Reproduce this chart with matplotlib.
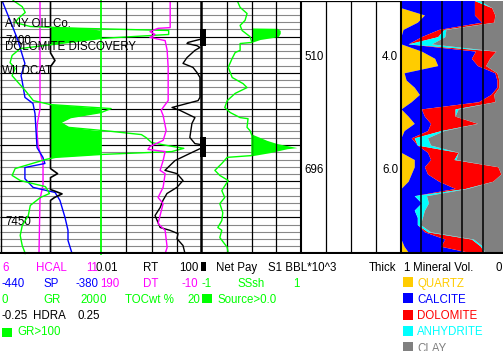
import numpy as np
import matplotlib
matplotlib.use("Agg")
import matplotlib.pyplot as plt
from matplotlib.patches import Rectangle
from matplotlib.transforms import blended_transform_factory

plt.rcParams['font.family'] = ['Liberation Sans', 'DejaVu Sans']

# ---------------- data ----------------
D_TOP, D_BOT = 7390, 7460

GR_DEPTH = [7390.0, 7391.7, 7393.3, 7395.0, 7396.1, 7397.2, 7397.7, 7398.3, 7399.4, 7400.5,
            7403.3, 7405.2, 7407.2, 7408.8, 7410.8, 7412.7, 7414.9, 7417.7, 7418.8, 7419.9,
            7421.0, 7422.4, 7423.8, 7425.1, 7426.2, 7427.1, 7428.0, 7429.3, 7430.1, 7430.9,
            7431.8, 7432.6, 7433.4, 7434.0, 7436.5, 7438.4, 7439.8, 7441.5, 7443.4, 7444.5,
            7446.7, 7449.5, 7452.3, 7455.0, 7457.8, 7460.0]
GR = [26, 44, 50, 36, 30, 60, 160, 334, 334, 200,
      40, 24, 20, 30, 24, 36, 50, 66, 100, 220,
      200, 140, 120, 136, 220, 280, 290, 300, 330, 364,
      340, 200, 110, 90, 30, 24, 40, 90, 98, 80,
      60, 56, 44, 40, 44, 50]

SP_DEPTH = [7390.0, 7397.5, 7401.1, 7405.8, 7407.4, 7410.8, 7412.1, 7416.8, 7418.5, 7421.3,
            7426.0, 7430.7, 7433.4, 7435.1, 7436.2, 7439.3, 7441.7, 7442.6, 7443.1, 7445.3,
            7450.0, 7453.6, 7456.4, 7460.0]
SP = [-438.8, -432.3, -429.3, -426.3, -425.2, -427.5, -426.9, -425.2, -420.4, -419.2,
      -418.6, -418.0, -414.5, -413.3, -425.2, -425.2, -420.4, -412.1, -407.3, -404.4,
      -401.4, -399.6, -399.6, -397.2]

HCAL_DEPTH = [7390, 7420, 7424, 7426, 7430, 7432, 7435, 7441, 7445, 7460]
HCAL = [7.98, 7.98, 7.85, 7.83, 7.88, 7.98, 8.13, 8.13, 7.98, 7.93]

HDRA_DEPTH = [7390, 7404.5, 7406.6, 7408.3, 7436.5, 7437.9, 7439.0, 7442.3, 7443.5, 7444.5, 7445.3, 7460]
HDRA = [0.0, 0.0, 0.022, 0.0, 0.0, 0.035, 0.0, 0.0, 0.057, 0.02, 0.0, 0.0]

RT_DEPTH = [7390.0, 7400.3, 7401.6, 7401.9, 7402.5, 7403.0, 7403.8, 7405.8, 7407.4, 7408.5,
            7409.9, 7411.3, 7416.8, 7417.7, 7418.5, 7419.6, 7420.4, 7422.4, 7424.0, 7427.9,
            7429.6, 7430.1, 7431.0, 7432.3, 7434.3, 7437.0, 7437.9, 7439.8, 7441.7, 7443.4,
            7445.3, 7447.3, 7449.5, 7452.8, 7453.6, 7454.5, 7455.9, 7457.8, 7460.0]
RT = [150, 150, 27.9, 25.4, 63, 83, 52.5, 25.4, 17.7, 43.7,
      63, 83, 83, 70, 25.4, 6.5, 13.4, 52.5, 40, 33,
      52.5, 150, 83, 33.4, 8.5, 3.4, 10.2, 17.7, 10.2, 4.1,
      2.85, 2.2, 1.38, 2.2, 5.4, 11.2, 10.2, 17.7, 21.2]

DT_DEPTH = [7390.0, 7397.5, 7397.7, 7398.6, 7399.4, 7400.2, 7401.1, 7403.8, 7408.5, 7417.7,
            7419.6, 7420.4, 7421.8, 7426.0, 7428.7, 7430.4, 7431.2, 7431.8, 7434.3, 7437.0,
            7437.9, 7441.7, 7444.5, 7446.2, 7449.5, 7451.7, 7453.6, 7458.3, 7460.0]
DT = [53, 53, 77, 93, 83, 93, 63, 59, 57, 57,
      67, 71, 67, 61, 67, 93, 97, 63, 67, 73,
      63, 67, 77, 67, 73, 77, 63, 59, 63]

TOC_DEPTH = [7390, 7460]
TOC = [0.0, 0.0]

SSSH_DEPTH = [7390.0, 7391.9, 7393.6, 7395.5, 7396.9, 7398.3, 7400.0, 7401.6, 7401.9, 7403.8,
              7404.4, 7406.0, 7408.5, 7411.3, 7413.0, 7414.1, 7415.7, 7417.7, 7419.6, 7421.0,
              7422.4, 7422.7, 7425.1, 7426.0, 7427.4, 7432.9, 7433.4, 7435.1, 7437.0, 7438.4,
              7439.8, 7442.6, 7444.5, 7446.2, 7448.7, 7450.9, 7452.8, 7453.6, 7455.6, 7458.3,
              7460.0]
SSSH = [-0.29, -0.23, -0.09, -0.13, -0.23, -0.19, -0.03, 0.01, -0.23, -0.23,
        -0.33, -0.39, -0.47, -0.39, -0.17, -0.09, -0.33, -0.49, -0.54, -0.43,
        -0.23, -0.07, -0.09, -0.03, 0.01, 0.01, -0.49, -0.60, -0.74, -0.64,
        -0.47, -0.60, -0.54, -0.64, -0.58, -0.60, -0.68, -0.60, -0.64, -0.49,
        -0.47]

SOURCE_DEPTH = [7390.0, 7397.6, 7397.7, 7398.3, 7399.1, 7400.0, 7400.8, 7401.6,
                7426.8, 7427.1, 7427.9, 7428.7, 7429.6, 7430.7, 7431.0, 7432.1, 7432.9, 7433.2, 7460.0]
SOURCE = [0.0, 0.0, 0.52, 0.58, 0.58, 0.54, 0.17, 0.0,
          0.0, 0.03, 0.17, 0.31, 0.52, 0.92, 0.72, 0.37, 0.03, 0.0, 0.0]

NETPAY_TOP = [7398.0, 7427.9]
NETPAY_BASE = [7402.7, 7433.4]

PAY_LABEL_DEPTH = [7406.6, 7437.7]
S1_BBL = ["510", "696"]
THICK = ["4.0", "6.0"]

DEPTH_LABELS = [7400, 7450]

MIN_DEPTH = list(range(7390, 7461, 2))
QUARTZ = [0, 0, .23, .16, .02, 0, 0, .20, .33, .36, .03, .05, .13, .18, .10, 0, .07, .13,
          .03, 0, 0, 0, .13, .13, .10, .07, 0, 0, 0, 0, 0, 0, 0, 0, .03, .08]
CALCITE = [.72, .72, .49, .63, .35, .20, .07, .53, .36, .39, .89, .89, .81, .70, .66, .20, .16, .16,
           .23, .10, .16, .26, .16, .10, .16, .30, .53, .13, .20, .13, .16, .16, .23, .43, .36, .64]
DOLOMITE = [0, .17, .20, .12, .05, .16, 0, .20, .18, .08, .02, .02, .02, .03, .16, .33, .30, .46,
            .13, .03, 0, .30, .23, .72, .72, .53, .10, 0, 0, 0, 0, 0, .03, .26, .39, .10]
ANHYDRITE = [.05, 0, 0, 0, .02, .07, .23, 0, 0, 0, 0, 0, 0, 0, 0, .03, 0, 0,
             .03, .13, .13, 0, .02, 0, 0, 0, .02, .12, .07, .10, .05, .03, .03, .02, .02, 0]
CLAY = [.23, .11, .08, .09, .56, .57, .70, .07, .13, .17, .06, .04, .04, .09, .08, .44, .47, .25,
        .58, .74, .71, .44, .46, .05, .02, .10, .35, .75, .73, .77, .79, .81, .71, .29, .20, .18]

MINERALS = ["QUARTZ", "CALCITE", "DOLOMITE", "ANHYDRITE", "CLAY"]
MIN_COLORS = ["#FFCC00", "#0000FF", "#FF0000", "#00FFFF", "#808080"]

# ---------------- figure ----------------
W, H = 503, 351
TOP_PX, BOT_PX = 0.5, 253.5
FS = 8.3
GREEN = "#00FF00"
MAG = "#FF00FF"
BLUE = "#0000FF"

fig = plt.figure(figsize=(W / 100, H / 100), dpi=100)
fig.patch.set_facecolor("white")


def track(x0, x1, xlim, xscale="linear"):
    ax = fig.add_axes([x0 / W, (H - BOT_PX) / H, (x1 - x0) / W, (BOT_PX - TOP_PX) / H])
    ax.set_xscale(xscale)
    ax.set_xlim(*xlim)
    ax.set_ylim(D_BOT, D_TOP)
    ax.axis("off")
    ax.patch.set_alpha(0)
    return ax


# depth grid for tracks 1-3
gax = track(0, 301, (0, 1))
gax.hlines(np.arange(7392, 7460, 2), 0, 1, colors="#888888", lw=0.8)
gax.hlines(np.arange(7400, 7460, 10), 0, 1, colors="black", lw=0.8)

# mineral track
mx = track(401, 503, (1, 0))
vols = [np.array(v, dtype=float) for v in (QUARTZ, CALCITE, DOLOMITE, ANHYDRITE, CLAY)]
left = np.ones(len(MIN_DEPTH))
for v, c in zip(vols, MIN_COLORS):
    right = left - v
    mx.fill_betweenx(MIN_DEPTH, left, right, color=c, lw=0)
    left = right
for xv in (0.8, 0.6, 0.4, 0.2):
    mx.axvline(xv, color="black", lw=1.1)

# depth / pay track
dax = track(301, 401, (0, 1))
for xv in (0.25, 0.5, 0.75):
    dax.axvline(xv, color="black", lw=0.9)
for d, s, t in zip(PAY_LABEL_DEPTH, S1_BBL, THICK):
    dax.text(0.03, d, s, fontsize=FS, va="baseline", ha="left")
    dax.text(0.81, d, t, fontsize=FS, va="baseline", ha="left")

# track 1
ax_gr = track(0, 101, (0, 200))
gr = np.array(GR, dtype=float)
ax_gr.fill_betweenx(GR_DEPTH, 100, np.minimum(gr, 200), where=gr >= 100,
                    interpolate=True, color=GREEN, lw=0)
ax_hcal = track(0, 101, (6, 11))
ax_hcal.plot(HCAL, HCAL_DEPTH, color=MAG, lw=1.0)
ax_sp = track(0, 101, (-440, -380))
ax_sp.plot(SP, SP_DEPTH, color=BLUE, lw=1.0)
ax_hd = track(0, 101, (-0.25, 0.25))
ax_hd.plot(HDRA, HDRA_DEPTH, color="black", lw=1.2)
ax_gr2 = track(0, 101, (0, 200))
ax_gr2.plot(GR, GR_DEPTH, color=GREEN, lw=1.0, clip_on=False)

# track 2
ax_rt = track(101, 202, (0.01, 100), "log")
for xv in (0.1, 1, 10):
    ax_rt.axvline(xv, color="black", lw=0.9)
ax_rt.plot(RT, RT_DEPTH, color="black", lw=1.0)
ax_dt = track(101, 202, (190, -10))
ax_dt.plot(DT, DT_DEPTH, color=MAG, lw=1.0)
ax_toc = track(101, 202, (0, 20))
ax_toc.plot(TOC, TOC_DEPTH, color=GREEN, lw=1.3, clip_on=False)

# track 3
ax_ss = track(202, 301, (-1, 1))
for xv in (-0.5, 0, 0.5):
    ax_ss.axvline(xv, color="black", lw=0.9)
ax_ss.fill_betweenx(SOURCE_DEPTH, 0, SOURCE, color=GREEN, lw=0)
ax_ss.plot(SSSH, SSSH_DEPTH, color=GREEN, lw=1.0)

# net pay flags
ax_np = track(200, 206, (0, 1))
for t, b in zip(NETPAY_TOP, NETPAY_BASE):
    ax_np.fill_betweenx([t, b], 0, 1, color="black", lw=0)

# borders (pixel overlay)
ov = fig.add_axes([0, (H - BOT_PX) / H, 1, (BOT_PX - TOP_PX) / H])
ov.set_xlim(0, W)
ov.set_ylim(BOT_PX, TOP_PX)
ov.axis("off")
ov.patch.set_alpha(0)
ov.vlines([0.7], TOP_PX, BOT_PX, colors="black", lw=1.0)
ov.vlines([201.3], TOP_PX, BOT_PX, colors="black", lw=1.8)
ov.vlines([300.9, 400.9], TOP_PX, BOT_PX, colors="black", lw=1.5)
ov.hlines([1.0], 0, 401, colors="black", lw=0.9)
ov.hlines([253.0], 0, W, colors="black", lw=1.5)

# depth labels and annotations
trans = blended_transform_factory(ax_gr.transAxes, ax_gr.transData)
for d in DEPTH_LABELS:
    ax_gr.text(0.05, d + 2.0, str(d), transform=trans, fontsize=FS, va="baseline", ha="left")


def ftext(x, yb, s, color="black", **kw):
    fig.text(x / W, 1 - yb / H, s, color=color, fontsize=FS, va="baseline", ha="left", **kw)


def fsquare(x0, x1, y0, y1, color):
    fig.add_artist(Rectangle((x0 / W, 1 - y1 / H), (x1 - x0) / W, (y1 - y0) / H,
                             transform=fig.transFigure, color=color, lw=0))


ftext(5, 26.7, "ANY OIL Co.")
ftext(5, 50.0, "DOLOMITE DISCOVERY")
ftext(2, 74.0, "WILDCAT")

# header rows
r1, r2, r3, r4, r5, r6 = 270.7, 286.8, 302.9, 319.1, 335.4, 351.5
ftext(2, r1, "6", MAG); ftext(36, r1, "HCAL", MAG); ftext(86, r1, "11", MAG)
ftext(96, r1, "0.01"); ftext(143, r1, "RT"); ftext(179, r1, "100")
fsquare(201, 206, 262, 271, "black")
ftext(216, r1, "Net Pay"); ftext(268, r1, "S1 BBL*10^3")
ftext(369, r1, "Thick"); ftext(403, r1, "1"); ftext(413, r1, "Mineral Vol."); ftext(495, r1, "0")

ftext(2, r2, "-440", BLUE); ftext(43, r2, "SP", BLUE); ftext(75, r2, "-380", BLUE)
ftext(100, r2, "190", MAG); ftext(143, r2, "DT", MAG); ftext(182, r2, "-10", MAG)
ftext(201, r2, "-1", GREEN); ftext(237, r2, "SSsh", GREEN); ftext(293, r2, "1", GREEN)

ftext(2, r3, "0", GREEN); ftext(43, r3, "GR", GREEN); ftext(80, r3, "200", GREEN)
ftext(100, r3, "0", GREEN); ftext(125, r3, "TOCwt %", GREEN); ftext(187, r3, "20", GREEN)
fsquare(202, 212, 294, 303, GREEN)
ftext(217, r3, "Source>0.0", GREEN)

ftext(2, r4, "-0.25"); ftext(33, r4, "HDRA"); ftext(77, r4, "0.25")

fsquare(2, 12, 328, 337, GREEN)
ftext(17, r5, "GR>100", GREEN)

for name, col, yb in zip(MINERALS, MIN_COLORS, (r2, r3, r4, r5, r6)):
    fsquare(403, 413, yb - 9.5, yb + 0.5, col)
    ftext(417, yb, name, col)

fig.savefig("out.png", dpi=100)
